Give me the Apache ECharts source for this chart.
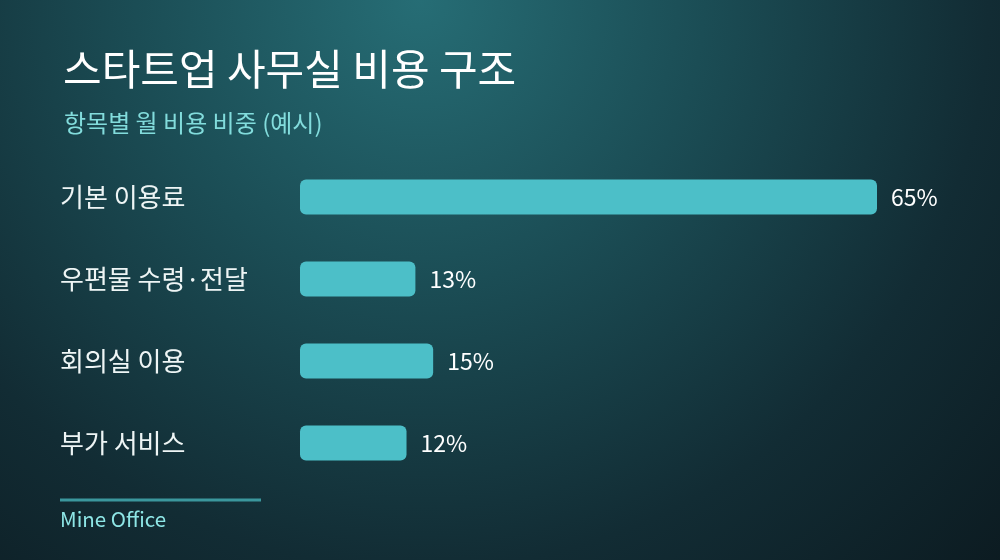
<!DOCTYPE html>
<html>
<head>
<meta charset="utf-8">
<script src="https://cdn.jsdelivr.net/npm/echarts@6/dist/echarts.min.js"></script>
<style>
html,body{margin:0;padding:0;background:#0f2229;}
#c{width:1000px;height:560px;}
</style>
</head>
<body>
<div id="c"></div>
<script>
const titleText = '스타트업 사무실 비용 구조';
const subtitleText = '항목별 월 비용 비중 (예시)';
const sourceText = 'Mine Office';
const categories = ['기본 이용료', '우편물 수령·전달', '회의실 이용', '부가 서비스'];
const values = [65, 13, 15, 12];

const FONT = "'Noto Sans CJK KR', 'Noto Sans', sans-serif";
const chart = echarts.init(document.getElementById('c'));
chart.setOption({
  backgroundColor: {
    type: 'radial', x: 0.42, y: 0.0, r: 1.45,
    colorStops: [
      {offset: 0, color: '#266d75'},
      {offset: 0.35, color: '#1b4d55'},
      {offset: 0.7, color: '#122c34'},
      {offset: 1, color: '#0c1b21'}
    ]
  },
  textStyle: {fontFamily: FONT},
  title: [
    {text: titleText, left: 58, top: 43, textStyle: {color: '#ffffff', fontSize: 42, fontWeight: 400, fontFamily: FONT}},
    {text: subtitleText, left: 59, top: 106, textStyle: {color: '#82dcdc', fontSize: 24, fontWeight: 400, fontFamily: FONT}}
  ],
  grid: {left: 300, right: 123, top: 156, bottom: 76, containLabel: false},
  xAxis: {type: 'value', min: 0, max: 65, show: false},
  yAxis: {
    type: 'category', data: categories, inverse: true,
    axisLine: {show: false}, axisTick: {show: false}, splitLine: {show: false},
    axisLabel: {margin: 240, align: 'left', color: '#eef5f5', fontSize: 26, fontFamily: FONT}
  },
  series: [{
    type: 'bar', data: values, barWidth: 35,
    itemStyle: {color: '#4cbfc8', borderRadius: 6},
    label: {show: true, position: 'right', distance: 14, formatter: '{c}%', color: '#ffffff', fontSize: 23, fontFamily: FONT},
    silent: true
  }],
  graphic: [
    {type: 'line', shape: {x1: 60, y1: 500, x2: 261, y2: 500}, style: {stroke: '#3b979d', lineWidth: 3}},
    {type: 'text', left: 60, top: 509, style: {text: sourceText, fill: '#8ee6e6', fontSize: 20.5, fontFamily: FONT}}
  ]
});
</script>
</body>
</html>
